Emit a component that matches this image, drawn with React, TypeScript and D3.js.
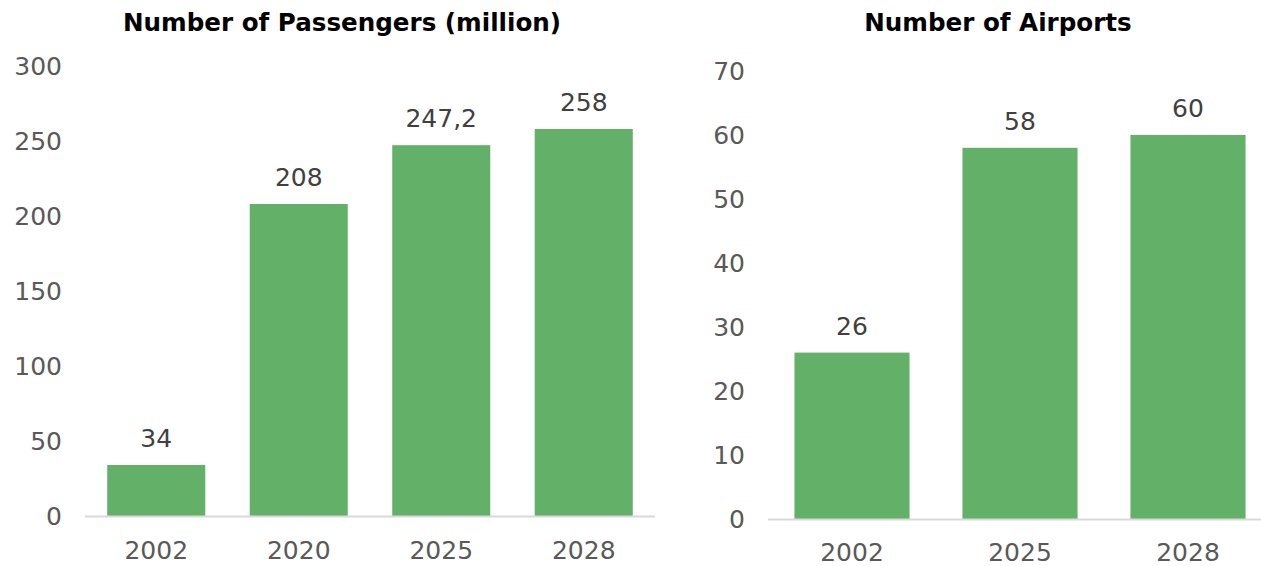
import React from "react";
import * as d3 from "d3";

const passengerYears = ["2002", "2020", "2025", "2028"];
const passengerValues = [34, 208, 247.2, 258];
const passengerLabels = ["34", "208", "247,2", "258"];
const passengerTicks = [0, 50, 100, 150, 200, 250, 300];

const airportYears = ["2002", "2025", "2028"];
const airportValues = [26, 58, 60];
const airportLabels = ["26", "58", "60"];
const airportTicks = [0, 10, 20, 30, 40, 50, 60, 70];

const FONT = "'DejaVu Sans', sans-serif";
const GREEN = "#63B168";

type ChartProps = {
  title: string;
  titleX: number;
  cats: string[];
  values: number[];
  labels: string[];
  ticks: number[];
  x0: number;
  x1: number;
  y0: number;
  y1: number;
  axisEnd: number;
  tickX: number;
  xLabelY: number;
  padding: number;
};

function BarChart(p: ChartProps) {
  const maxT = p.ticks[p.ticks.length - 1];
  const y = d3.scaleLinear().domain([0, maxT]).range([p.y0, p.y1]);
  const x = d3.scaleBand().domain(p.cats).range([p.x0, p.x1]).paddingInner(p.padding).paddingOuter(p.padding / 2);
  return (
    <g>
      <text x={p.titleX} y={31} textAnchor="middle" fontFamily={FONT} fontWeight="bold" fontSize={24.6} fill="#000">
        {p.title}
      </text>
      {p.ticks.map((t) => (
        <text key={t} x={p.tickX} y={y(t)} dy="0.36em" textAnchor="end" fontFamily={FONT} fontSize={25} fill="#595959">
          {t}
        </text>
      ))}
      {p.cats.map((c, i) => (
        <g key={c}>
          <rect x={x(c)} y={y(p.values[i])} width={x.bandwidth()} height={p.y0 - y(p.values[i])} fill={GREEN} />
          <text x={(x(c) as number) + x.bandwidth() / 2} y={y(p.values[i]) - 18} textAnchor="middle" fontFamily={FONT} fontSize={25} fill="#404040">
            {p.labels[i]}
          </text>
          <text x={(x(c) as number) + x.bandwidth() / 2} y={p.xLabelY} textAnchor="middle" fontFamily={FONT} fontSize={25} fill="#595959">
            {c}
          </text>
        </g>
      ))}
      <line x1={p.x0} x2={p.axisEnd} y1={p.y0 + 0.5} y2={p.y0 + 0.5} stroke="#D9D9D9" strokeWidth={2} />
    </g>
  );
}

export default function App() {
  return (
    <div style={{ position: "fixed", left: 0, top: 0 }}>
      <svg width={1261} height={566} style={{ display: "block", background: "#fff" }}>
        <BarChart
          title="Number of Passengers (million)"
          titleX={342}
          cats={passengerYears}
          values={passengerValues}
          labels={passengerLabels}
          ticks={passengerTicks}
          x0={85}
          x1={655}
          y0={516}
          y1={66}
          axisEnd={655}
          tickX={62}
          xLabelY={559}
          padding={0.312}
        />
        <BarChart
          title="Number of Airports"
          titleX={998}
          cats={airportYears}
          values={airportValues}
          labels={airportLabels}
          ticks={airportTicks}
          x0={768}
          x1={1272}
          y0={519}
          y1={71}
          axisEnd={1261}
          tickX={745}
          xLabelY={561}
          padding={0.315}
        />
      </svg>
    </div>
  );
}
